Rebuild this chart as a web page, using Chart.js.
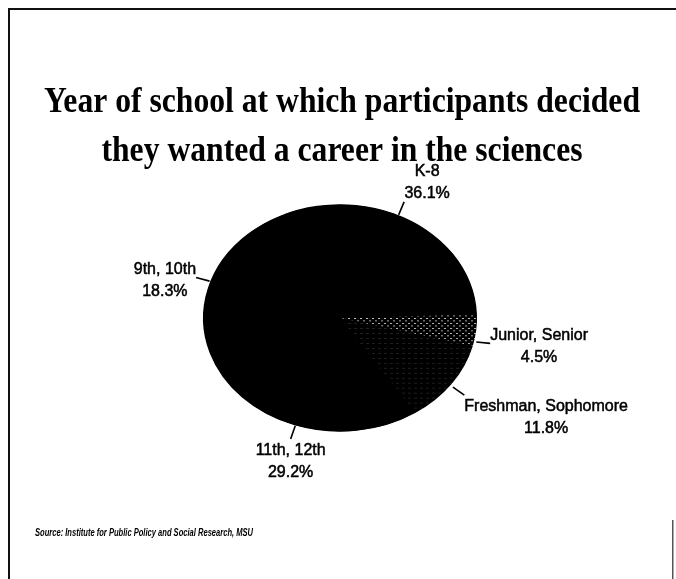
<!DOCTYPE html>
<html>
<head>
<meta charset="utf-8">
<script src="https://cdn.jsdelivr.net/npm/chart.js@4.4.1/dist/chart.umd.min.js"></script>
<style>
  html, body { margin: 0; padding: 0; background: #fff; }
  #wrap { width: 676px; height: 579px; }
</style>
</head>
<body>
<div id="wrap"><canvas id="pie" width="676" height="579"></canvas></div>
<script>
// data (clockwise from 3 o'clock)
const categories = ["Junior, Senior", "Freshman, Sophomore", "11th, 12th", "9th, 10th", "K-8"];
const shares = [4.5, 11.8, 29.2, 18.3, 36.1];
const titleLines = [
  "Year of school at which participants decided",
  "they wanted a career in the sciences",
];
const sourceNote = "Source: Institute for Public Policy and Social Research, MSU";

// look & feel
const SQUASH = 0.83;               // pie is printed as a flat ellipse
const LABEL_FONT = "16px 'Liberation Sans', Arial, sans-serif";
// where each label block sits relative to the end of its leader line
const labelPlace = [
  { side: "right", nudge: [2, 12], dy: -8 },
  { side: "right", nudge: [3, 4], dy: 11 },
  { side: "bottom", nudge: [0, 2], dy: 12 },
  { side: "left", nudge: [0, -8], dy: -8 },
  { side: "top", nudge: [6, 0], dy: -8 },
];

//-------------------------------------
// Fills (scan texture on two slices)
//-------------------------------------
function makePattern(kind) {
  const c = document.createElement("canvas");
  c.width = 6; c.height = 6;
  const g = c.getContext("2d");
  g.fillStyle = "#000";
  g.fillRect(0, 0, 6, 6);
  if (kind === "dots") {
    g.fillStyle = "#c8c8c8";
    g.fillRect(0, 0, 2, 1);
    g.fillRect(3, 3, 2, 1);
  } else {
    g.fillStyle = "#262626";
    g.fillRect(0, 0, 3, 1);
  }
  return g.createPattern(c, "repeat");
}
const fills = [makePattern("dots"), makePattern("lines"), "#000", "#000", "#000"];

//-------------------------------------
// Plugins
//-------------------------------------
const frame = {
  id: "frame",
  beforeDraw(chart) {
    const ctx = chart.ctx;
    ctx.save();
    ctx.fillStyle = "#fff";
    ctx.fillRect(0, 0, chart.width, chart.height);
    ctx.fillStyle = "#111";
    ctx.fillRect(8, 8, chart.width - 8, 2);
    ctx.fillRect(8, 8, 2, chart.height - 8);
    ctx.fillStyle = "#555";
    ctx.fillRect(672, 520, 1.5, chart.height - 520);

    // title, heavy serif squeezed to the printed width
    ctx.fillStyle = "#000";
    ctx.font = "bold 36px 'Liberation Serif', 'Times New Roman', serif";
    ctx.textAlign = "center";
    ctx.textBaseline = "alphabetic";
    const sx = 596 / ctx.measureText(titleLines[0]).width;
    ctx.translate(342, 0);
    ctx.scale(sx, 1);
    ctx.fillText(titleLines[0], 0, 112);
    ctx.fillText(titleLines[1], 0, 161);
    ctx.restore();

    ctx.save();
    ctx.fillStyle = "#000";
    ctx.font = "italic bold 10px 'Liberation Sans', Arial, sans-serif";
    ctx.textAlign = "left";
    ctx.fillText(sourceNote, 35, 536, 218);
    ctx.restore();
  },
};

const ellipse = {
  id: "ellipse",
  beforeDatasetsDraw(chart) {
    const a = chart.getDatasetMeta(0).data[0];
    const ctx = chart.ctx;
    ctx.save();
    ctx.translate(a.x, a.y);
    ctx.scale(1, SQUASH);
    ctx.translate(-a.x, -a.y);
    // solid backing so no light seams show between the black slices
    ctx.fillStyle = "#000";
    ctx.beginPath();
    ctx.arc(a.x, a.y, a.outerRadius - 0.5, 0, Math.PI * 2);
    ctx.fill();
  },
  afterDatasetsDraw(chart) {
    chart.ctx.restore();
  },
};

const sliceLabels = {
  id: "sliceLabels",
  afterDraw(chart) {
    const ctx = chart.ctx;
    const arcs = chart.getDatasetMeta(0).data;
    ctx.save();
    ctx.font = LABEL_FONT;
    ctx.fillStyle = "#000";
    ctx.strokeStyle = "#000";
    arcs.forEach((arc, i) => {
      const { x, y, startAngle, endAngle, outerRadius } =
        arc.getProps(["x", "y", "startAngle", "endAngle", "outerRadius"], true);
      const mid = (startAngle + endAngle) / 2;
      const p = labelPlace[i];
      const cs = Math.cos(mid), sn = Math.sin(mid);
      const x0 = x + cs * (outerRadius - 2) + p.nudge[0];
      const y0 = y + sn * (outerRadius - 2) * SQUASH + p.nudge[1];
      const x1 = x0 + cs * 14;
      const y1 = y0 + sn * 14;
      ctx.lineWidth = 1.6;
      ctx.beginPath();
      ctx.moveTo(x0, y0);
      ctx.lineTo(x1, y1);
      ctx.stroke();

      const l1 = categories[i];
      const l2 = shares[i].toFixed(1) + "%";
      const w = Math.max(ctx.measureText(l1).width, ctx.measureText(l2).width);
      let cx, ly;
      if (p.side === "right") { cx = x1 + w / 2; ly = y1 + p.dy; }
      else if (p.side === "left") { cx = x1 - w / 2; ly = y1 + p.dy; }
      else if (p.side === "bottom") { cx = x1; ly = y1 + p.dy; }
      else { cx = x1 + 23; ly = y1 + p.dy - 22; }
      ctx.textAlign = "center";
      ctx.textBaseline = "middle";
      ctx.lineWidth = 0.5;
      [l1, l2].forEach((t, k) => {
        ctx.fillText(t, cx, ly + k * 22);
        ctx.strokeText(t, cx, ly + k * 22);
      });
    });
    ctx.restore();
  },
};

//-------------------------------------
// Chart
//-------------------------------------
new Chart(document.getElementById("pie"), {
  type: "pie",
  data: {
    labels: categories,
    datasets: [{ data: shares, backgroundColor: fills, borderWidth: 0 }],
  },
  options: {
    responsive: false,
    animation: false,
    devicePixelRatio: 1,
    rotation: 88,
    layout: { padding: { left: 203, right: 199, top: 181, bottom: 124 } },
    plugins: {
      legend: { display: false },
      tooltip: { enabled: false },
      title: { display: false },
    },
  },
  plugins: [frame, ellipse, sliceLabels],
});
</script>
</body>
</html>
